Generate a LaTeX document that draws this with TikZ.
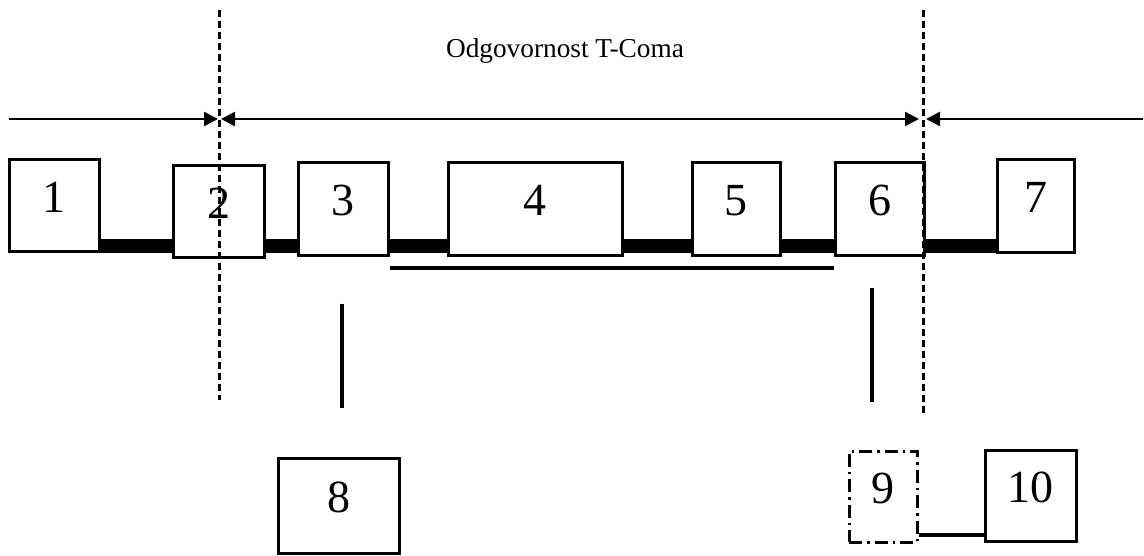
\documentclass[tikz,border=0pt]{standalone}
\usepackage{fontspec}
\setmainfont{Liberation Serif}
\usetikzlibrary{arrows.meta}
\tikzset{
  blk/.style={draw, line width=3pt, inner sep=0pt, font=\fontsize{46}{46}\selectfont,
    text height=31pt, text depth=18pt, fill=white},
  dashdotblk/.style={blk, dash pattern=on 13pt off 5pt on 2.5pt off 5pt},
  bar/.style={line width=14pt},
  link/.style={line width=3.2pt},
  boundary/.style={line width=3pt, dash pattern=on 7pt off 4pt},
  span/.style={line width=2.4pt, -{Triangle[length=14pt,width=14pt]}},
  span2/.style={line width=2.4pt, {Triangle[length=14pt,width=14pt]}-{Triangle[length=14pt,width=14pt]}},
}
\begin{document}
\begin{tikzpicture}[x=1pt,y=-1pt]
\useasboundingbox (0,0) rectangle (1144,556);
% title
\node[anchor=base, font=\fontsize{27.3}{27.3}\selectfont, inner sep=0pt] (title) at (565,58) {Odgovornost T-Coma};
% boxes
\node[blk, minimum width=90pt, minimum height=92pt] (b1) at (54,206) {1};
\node[blk, minimum width=91pt, minimum height=92pt] (b2) at (218.5,212) {2};
\node[blk, minimum width=90pt, minimum height=93pt] (b3) at (343,209.5) {3};
\node[blk, minimum width=174pt, minimum height=93pt] (b4) at (535,209.5) {4};
\node[blk, minimum width=88pt, minimum height=93pt] (b5) at (736,209.5) {5};
\node[blk, minimum width=89pt, minimum height=93pt] (b6) at (879.5,209.5) {6};
\node[blk, minimum width=77pt, minimum height=93pt] (b7) at (1035.5,206.5) {7};
\node[blk, minimum width=121pt, minimum height=95pt] (b8) at (338.5,505.5) {8};
\node[dashdotblk, minimum width=68pt, minimum height=91pt] (b9) at (883,496.5) {9};
\node[blk, minimum width=91pt, minimum height=91pt] (b10) at (1030.5,495.5) {10};
% bars
\coordinate (barY) at (0,246.5);
\draw[bar] (b1.east |- barY) -- (b2.west |- barY);
\draw[bar] (b2.east |- barY) -- (b3.west |- barY);
\draw[bar] (b3.east |- barY) -- (b4.west |- barY);
\draw[bar] (b4.east |- barY) -- (b5.west |- barY);
\draw[bar] (b5.east |- barY) -- (b6.west |- barY);
\draw[bar] (b6.east |- barY) -- (b7.west |- barY);
% underline
\coordinate (ulY) at (0,268);
\draw[link] (b3.east |- ulY) -- (b6.west |- ulY);
% verticals
\coordinate (v3a) at (342,304);
\coordinate (v3b) at (342,408);
\draw[line width=3.8pt] (v3a) -- (v3b);
\coordinate (v6a) at (872,288);
\coordinate (v6b) at (872,402);
\draw[line width=3.8pt] (v6a) -- (v6b);
% 9-10 link
\coordinate (l910) at (0,535);
\draw[link] (b9.east |- l910) -- (b10.west |- l910);
% boundaries
\coordinate (dLt) at (219,10);
\coordinate (dLb) at (219,400);
\coordinate (dRt) at (923,10);
\coordinate (dRb) at (923,415);
\draw[boundary] (dLt) -- (dLb);
\draw[boundary] (dRt) -- (dRb);
% spans
\coordinate (aL0) at (9,119);
\coordinate (aL1) at (218,119);
\coordinate (aM0) at (221,119);
\coordinate (aM1) at (919,119);
\coordinate (aR0) at (1143,119);
\coordinate (aR1) at (926,119);
\draw[span] (aL0) -- (aL1);
\draw[span2] (aM0) -- (aM1);
\draw[span] (aR0) -- (aR1);
\end{tikzpicture}
\end{document}
